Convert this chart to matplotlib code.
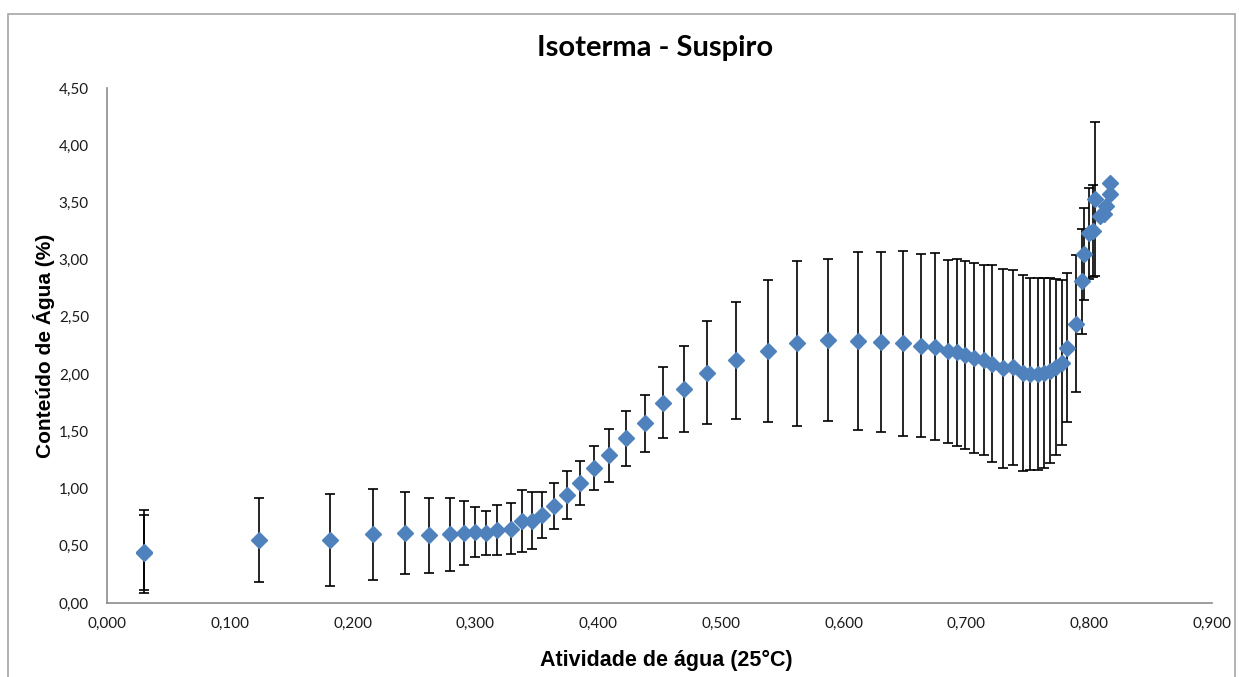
import matplotlib

matplotlib.use("Agg")
import matplotlib.pyplot as plt
from matplotlib.patches import Rectangle
from matplotlib.ticker import FuncFormatter, MultipleLocator

# Sorption isotherm of meringue: water activity vs water content, mean +/- sd
atividade = [
    0.030, 0.030, 0.124, 0.182, 0.217, 0.243, 0.262, 0.279, 0.291, 0.300,
    0.309, 0.318, 0.329, 0.338, 0.346, 0.354, 0.364, 0.375, 0.385, 0.397,
    0.409, 0.423, 0.438, 0.453, 0.470, 0.489, 0.512, 0.538, 0.562, 0.587,
    0.612, 0.630, 0.648, 0.663, 0.674, 0.685, 0.692, 0.699, 0.706, 0.714,
    0.721, 0.730, 0.738, 0.746, 0.752, 0.758, 0.763, 0.768, 0.773, 0.778,
    0.782, 0.789, 0.794, 0.796, 0.800, 0.803, 0.805, 0.809, 0.812, 0.814,
    0.817, 0.817,
]
conteudo = [
    0.45, 0.44, 0.55, 0.55, 0.60, 0.61, 0.59, 0.60, 0.61, 0.62,
    0.61, 0.64, 0.65, 0.72, 0.72, 0.77, 0.85, 0.94, 1.05, 1.18,
    1.29, 1.44, 1.57, 1.75, 1.87, 2.01, 2.12, 2.20, 2.27, 2.30,
    2.29, 2.28, 2.27, 2.25, 2.24, 2.20, 2.19, 2.17, 2.14, 2.12,
    2.09, 2.05, 2.06, 2.01, 2.00, 2.00, 2.01, 2.03, 2.06, 2.10,
    2.23, 2.44, 2.81, 3.05, 3.23, 3.25, 3.53, 3.38, 3.40, 3.47,
    3.57, 3.67,
]
desvio = [
    0.36, 0.33, 0.37, 0.40, 0.40, 0.36, 0.33, 0.32, 0.28, 0.22,
    0.19, 0.22, 0.22, 0.27, 0.25, 0.20, 0.20, 0.21, 0.19, 0.19,
    0.23, 0.24, 0.25, 0.31, 0.38, 0.45, 0.51, 0.62, 0.72, 0.71,
    0.78, 0.79, 0.81, 0.80, 0.82, 0.80, 0.82, 0.82, 0.83, 0.83,
    0.86, 0.87, 0.85, 0.86, 0.84, 0.84, 0.83, 0.81, 0.77, 0.72,
    0.65, 0.60, 0.46, 0.40, 0.40, 0.40, 0.67, 0.00, 0.00, 0.00,
    0.00, 0.00,
]

W, H = 1239, 677
fig = plt.figure(figsize=(W / 100, H / 100), dpi=100)
fig.patch.set_facecolor("white")

# chart frame
fig.patches.append(
    Rectangle((8 / W, -0.05), (1235 - 8) / W, 1.05 - 14 / H,
              transform=fig.transFigure, fill=False,
              edgecolor="#a6a6a6", linewidth=1.2)
)

ax = fig.add_axes([107 / W, (H - 603) / H, (1212 - 107) / W, (603 - 88) / H])

ax.errorbar(atividade, conteudo, yerr=desvio, fmt="none", ecolor="black",
            elinewidth=1.2, capsize=3.5, capthick=1.2, zorder=2)
ax.plot(atividade, conteudo, linestyle="none", marker="D", markersize=8,
        color="#4f81bd", markeredgecolor="#4f81bd", zorder=3)

ax.set_xlim(0, 0.9)
ax.set_ylim(0, 4.5)
ax.xaxis.set_major_locator(MultipleLocator(0.1))
ax.yaxis.set_major_locator(MultipleLocator(0.5))
ax.xaxis.set_major_formatter(FuncFormatter(lambda v, p: f"{v:.3f}".replace(".", ",")))
ax.yaxis.set_major_formatter(FuncFormatter(lambda v, p: f"{v:.2f}".replace(".", ",")))
ax.tick_params(length=0, labelsize=11, labelcolor="#1a1a1a")
ax.tick_params(axis="x", pad=10)
ax.tick_params(axis="y", pad=13)
for lab in ax.get_xticklabels() + ax.get_yticklabels():
    lab.set_family("Lato")

for side in ["top", "right"]:
    ax.spines[side].set_visible(False)
for side in ["left", "bottom"]:
    ax.spines[side].set_color("#8c8c8c")
    ax.spines[side].set_linewidth(1.2)

fig.text(655 / W, 1 - 48 / H, "Isoterma - Suspiro", ha="center", va="center",
         fontsize=21, fontweight="bold", family="Lato")
fig.text(666 / W, 1 - 660 / H, "Atividade de água (25°C)", ha="center",
         va="center", fontsize=15.5, fontweight="bold", family="Liberation Sans")
fig.text(44 / W, 1 - 346 / H, "Conteúdo de Água (%)", ha="center",
         va="center", rotation=90, fontsize=15, fontweight="bold",
         family="Liberation Sans")

fig.savefig("out.png", dpi=100, facecolor="white")
